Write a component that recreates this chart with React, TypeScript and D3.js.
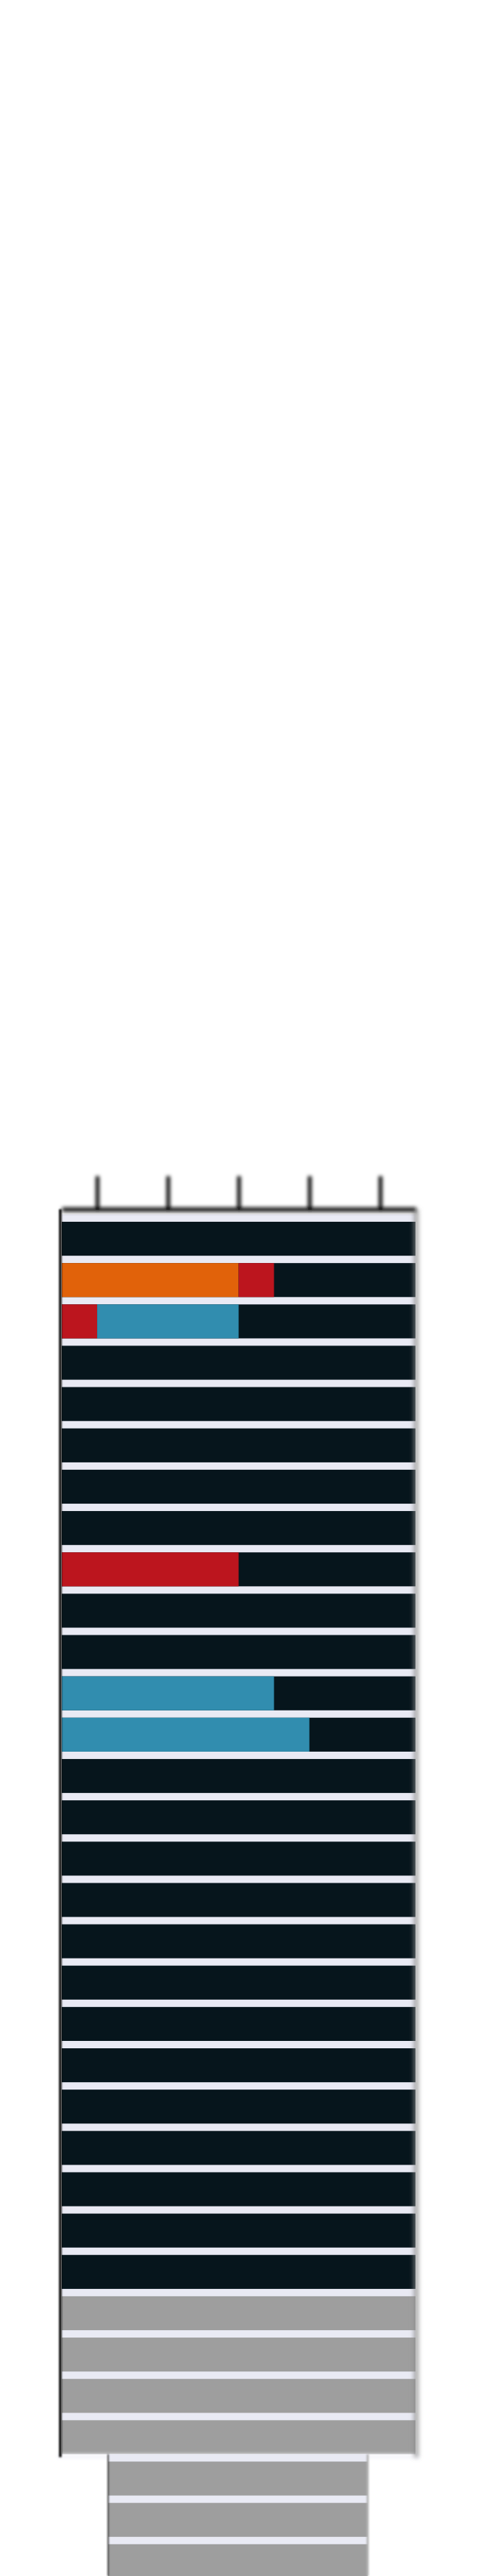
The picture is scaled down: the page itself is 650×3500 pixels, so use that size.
import React, { useEffect, useRef } from 'react'
import * as d3 from 'd3'

// upper panel, one entry per row (top to bottom), values in % of the track
const orangeValues = [0, 50, 0, 0, 0, 0, 0, 0, 0, 0, 0, 0, 0, 0, 0, 0, 0, 0, 0, 0, 0, 0, 0, 0, 0, 0, 0, 0, 0, 0]
const redValues = [0, 10, 10, 0, 0, 0, 0, 0, 50, 0, 0, 0, 0, 0, 0, 0, 0, 0, 0, 0, 0, 0, 0, 0, 0, 0, 0, 0, 0, 0]
const tealValues = [0, 0, 40, 0, 0, 0, 0, 0, 0, 0, 0, 60, 70, 0, 0, 0, 0, 0, 0, 0, 0, 0, 0, 0, 0, 0, 0, 0, 0, 0]
const rowActive = [
  true, true, true, true, true, true, true, true, true, true,
  true, true, true, true, true, true, true, true, true, true,
  true, true, true, true, true, true, false, false, false, false,
]

// lower panel (cut off by the page)
const lowerRowActive = [false, false, false, false]

const segmentKeys = ['orange', 'red', 'teal']
const segmentColors: Record<string, string> = {
  orange: '#e1620a',
  red: '#bc151e',
  teal: '#318daf',
}

const tickValues = [10, 30, 50, 70, 90]

export default function App() {
  const svgRef = useRef<SVGSVGElement>(null)

  useEffect(() => {
    const svg = d3.select(svgRef.current)
    svg.selectAll('*').remove()

    const width = 650
    const height = 3500
    const step = 56.15
    const gap = 10
    const top = 1650

    // blur filters (user space, big region so nothing gets clipped inside translated groups)
    const defs = svg.append('defs')
    const addBlur = (id: string, sd: number) => {
      defs
        .append('filter')
        .attr('id', id)
        .attr('filterUnits', 'userSpaceOnUse')
        .attr('x', -width)
        .attr('y', -height)
        .attr('width', width * 3)
        .attr('height', height * 3)
        .append('feGaussianBlur')
        .attr('stdDeviation', sd)
    }
    addBlur('soft', 2.4)
    addBlur('softer', 3)
    addBlur('faint', 1.2)

    const keys = orangeValues.map((_, i) => i)
    const n = keys.length

    const x = d3.scaleLinear().domain([0, 100]).range([84, 565])
    const y = d3
      .scaleBand<number>()
      .domain(keys)
      .range([top, top + n * step])
      .paddingInner(gap / step)
      .paddingOuter(gap / step / 2)
      .align(1)

    const panelBottom = top + n * step

    // lavender background of upper panel
    svg
      .append('rect')
      .attr('x', x(0))
      .attr('y', top)
      .attr('width', x(100) - x(0))
      .attr('height', n * step)
      .attr('fill', '#e9eaf4')

    // tracks
    svg
      .append('g')
      .selectAll('rect')
      .data(keys)
      .enter()
      .append('rect')
      .attr('x', x(0))
      .attr('y', (d) => y(d) as number)
      .attr('width', x(100) - x(0))
      .attr('height', y.bandwidth())
      .attr('fill', (d) => (rowActive[d] ? '#06151c' : '#9e9e9e'))

    // stacked segments
    const table = keys.map((i) => ({
      orange: orangeValues[i],
      red: redValues[i],
      teal: tealValues[i],
    }))
    const series = d3.stack<any>().keys(segmentKeys)(table)

    svg
      .append('g')
      .selectAll('g')
      .data(series)
      .enter()
      .append('g')
      .attr('fill', (s) => segmentColors[s.key])
      .selectAll('rect')
      .data((s) => s.map((d, i) => ({ d, i })).filter((p) => p.d[1] > p.d[0]))
      .enter()
      .append('rect')
      .attr('x', (p) => x(p.d[0]))
      .attr('y', (p) => y(p.i) as number)
      .attr('width', (p) => x(p.d[1]) - x(p.d[0]))
      .attr('height', y.bandwidth())

    // lower panel
    const lowerKeys = lowerRowActive.map((_, i) => i)
    const x2 = d3.scaleLinear().domain([0, 100]).range([147, 500])
    const y2 = d3
      .scaleBand<number>()
      .domain(lowerKeys)
      .range([panelBottom, panelBottom + lowerKeys.length * step])
      .paddingInner(gap / step)
      .paddingOuter(gap / step / 2)
      .align(1)

    // soft bottom edge of the upper panel
    svg
      .append('line')
      .attr('x1', x(0) - 6)
      .attr('x2', x(100) + 6)
      .attr('y1', panelBottom + 3)
      .attr('y2', panelBottom + 3)
      .attr('stroke', '#f6f6fb')
      .attr('stroke-width', 6)
      .attr('filter', 'url(#soft)')

    svg
      .append('rect')
      .attr('x', x2(0))
      .attr('y', panelBottom)
      .attr('width', x2(100) - x2(0))
      .attr('height', lowerKeys.length * step)
      .attr('fill', '#e9eaf4')

    svg
      .append('g')
      .selectAll('rect')
      .data(lowerKeys)
      .enter()
      .append('rect')
      .attr('x', x2(0))
      .attr('y', (d) => y2(d) as number)
      .attr('width', x2(100) - x2(0))
      .attr('height', y2.bandwidth())
      .attr('fill', (d) => (lowerRowActive[d] ? '#06151c' : '#9e9e9e'))

    // lower panel edges
    svg
      .append('line')
      .attr('x1', x2(0))
      .attr('x2', x2(0))
      .attr('y1', panelBottom)
      .attr('y2', height)
      .attr('stroke', '#4a4a4a')
      .attr('stroke-width', 2)
      .attr('filter', 'url(#faint)')
    svg
      .append('line')
      .attr('x1', x2(100))
      .attr('x2', x2(100))
      .attr('y1', panelBottom)
      .attr('y2', height)
      .attr('stroke', '#b5b5b5')
      .attr('stroke-width', 3)
      .attr('filter', 'url(#faint)')

    // upper panel frame edges
    svg
      .append('line')
      .attr('x1', x(0) - 2)
      .attr('x2', x(0) - 2)
      .attr('y1', top - 7)
      .attr('y2', panelBottom + 4)
      .attr('stroke', '#000')
      .attr('stroke-width', 3.5)
      .attr('filter', 'url(#faint)')
    svg
      .append('line')
      .attr('x1', x(100) + 1)
      .attr('x2', x(100) + 1)
      .attr('y1', top - 7)
      .attr('y2', panelBottom + 4)
      .attr('stroke', '#8c8c8c')
      .attr('stroke-width', 5)
      .attr('filter', 'url(#softer)')

    // top axis, ticks pointing up, no labels
    const xAxis = d3
      .axisTop(x)
      .tickValues(tickValues)
      .tickSize(45)
      .tickSizeOuter(0)
      .tickFormat(() => '')

    const axisGroup = svg
      .append('g')
      .attr('transform', `translate(0,${top - 7})`)
      .attr('filter', 'url(#soft)')
      .call(xAxis)
    axisGroup
      .select('.domain')
      .attr('stroke', '#111')
      .attr('stroke-width', 6)
    axisGroup
      .selectAll('.tick line')
      .attr('stroke', '#000')
      .attr('stroke-width', 5)
  }, [])

  return (
    <svg
      ref={svgRef}
      width="650"
      height="3500"
      style={{ position: 'absolute', left: 0, top: 0, display: 'block' }}
    ></svg>
  )
}
